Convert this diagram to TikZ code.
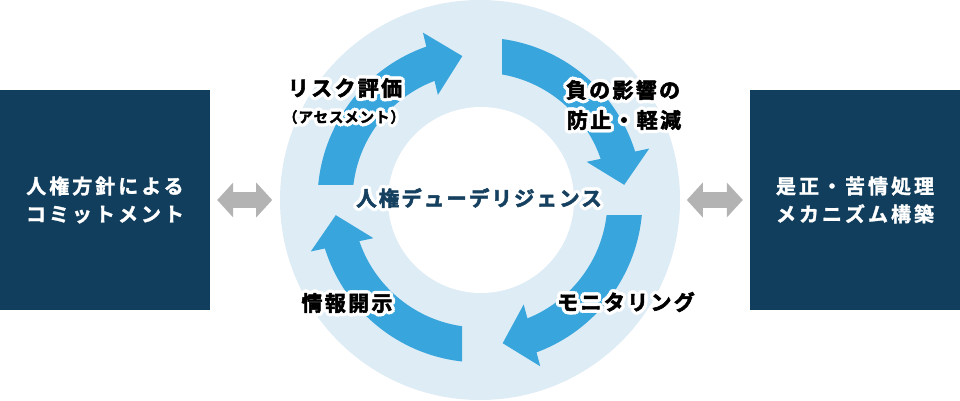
\documentclass[tikz,border=0pt]{standalone}
\usepackage{fontspec}
\setmainfont{Noto Sans CJK JP}[BoldFont={Noto Sans CJK JP Bold}]
\usetikzlibrary{calc,arrows.meta}
\definecolor{ringbg}{HTML}{DEECF5}
\definecolor{arrowblue}{HTML}{38A6DD}
\definecolor{boxnavy}{HTML}{123E5D}
\definecolor{textnavy}{HTML}{16405F}
\definecolor{arrowgray}{HTML}{B3B3B3}
\tikzset{
  sidebox/.style={fill=boxnavy, text=white, minimum width=210pt, minimum height=220pt,
    inner sep=0pt, align=center,
    font=\bfseries\fontsize{20}{28}\selectfont\addfontfeature{LetterSpace=15,FakeBold=1.5}},
  lbl/.style={inner sep=0pt, text=black,
    font=\bfseries\fontsize{21}{24}\selectfont\addfontfeature{LetterSpace=11,FakeBold=2.5}},
  lblsmall/.style={inner sep=0pt, text=black,
    font=\bfseries\fontsize{14.5}{18}\selectfont\addfontfeature{LetterSpace=6,FakeBold=2}},
  lblcenter/.style={inner sep=0pt, text=textnavy,
    font=\bfseries\fontsize{20.5}{24}\selectfont\addfontfeature{LetterSpace=10,FakeBold=2.5}},
  grayarrow/.style={draw=arrowgray, line width=16pt,
    {Triangle[length=16pt,width=34pt]}-{Triangle[length=16pt,width=34pt]}},
}
% halo text: #1 name, #2 position, #3 style, #4 text
\newcommand\halolabel[4]{%
  \foreach \hang in {0,30,...,330}{\node[#3,text=white] at ($(#2)+(\hang:3.4pt)$) {#4};}
  \node[#3] (#1) at (#2) {#4};
}
% cycle arrow: #1 outer tail angle, #2 inner tail angle, #3 shaft end angle,
% #4 head base angle, #5 tip angle, #6 name
\newcommand\cyclearrow[6]{%
  \begin{scope}[shift={(480,200)}]
    \fill[arrowblue] (#1:162.5pt) arc[start angle=#1, end angle=#3, radius=162.5pt]
      -- (#3:127.5pt) arc[start angle=#3, end angle=#2, radius=127.5pt] -- cycle;
    \coordinate (#6b) at (#4:145pt);
    \coordinate (#6t) at (#5:145pt);
    \fill[arrowblue] ($(#6b)!32pt!90:(#6t)$) -- (#6t) -- ($(#6b)!32pt!-90:(#6t)$) -- cycle;
  \end{scope}
}
\begin{document}
\begin{tikzpicture}[x=1pt,y=1pt]
\useasboundingbox (0,0) rectangle (960,400);
\fill[white] (0,0) rectangle (960,400);
% ring
\fill[ringbg] (480,200) circle[radius=200pt];
\fill[white] (481,200) circle[radius=93pt];
% four cycle arrows
\cyclearrow{174.70}{173.24}{107}{110}{97}{tl}
\cyclearrow{82.22}{80.06}{15}{18}{6}{tr}
\cyclearrow{-5.30}{-6.76}{-72}{-69}{-81}{rb}
\cyclearrow{-96.36}{-98.12}{-165}{-162}{-174}{bl}
% side boxes
\node[sidebox] (left) at (105,200) {人権方針による\\コミットメント};
\node[sidebox] (right) at (855,200) {是正・苦情処理\\メカニズム構築};
% gray double arrows
\coordinate (la1) at ($(left.east)+(7,0)$);
\coordinate (la2) at ($(left.east)+(62,0)$);
\draw[grayarrow] (la1) -- (la2);
\coordinate (ra1) at ($(right.west)+(-63,0)$);
\coordinate (ra2) at ($(right.west)+(-7,0)$);
\draw[grayarrow] (ra1) -- (ra2);
% labels
\coordinate (p1) at (345,312);
\coordinate (p2) at (344,283);
\coordinate (p3) at (623,310);
\coordinate (p4) at (624,280);
\coordinate (p5) at (479,202);
\coordinate (p6) at (347,97);
\coordinate (p7) at (626,98);
\halolabel{risk}{p1}{lbl}{リスク評価}
\halolabel{assess}{p2}{lblsmall}{（アセスメント）}
\halolabel{neg1}{p3}{lbl}{負の影響の}
\halolabel{neg2}{p4}{lbl}{防止・軽減}
\halolabel{hrdd}{p5}{lblcenter}{人権デューデリジェンス}
\halolabel{disc}{p6}{lbl}{情報開示}
\halolabel{moni}{p7}{lbl}{モニタリング}
\end{tikzpicture}
\end{document}
